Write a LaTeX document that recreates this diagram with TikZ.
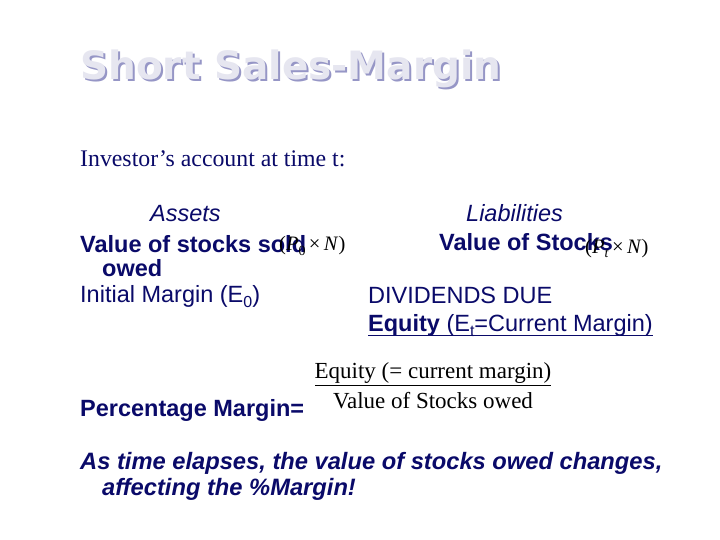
\documentclass[tikz,border=0pt]{standalone}
\usepackage{fontspec}
\usepackage{graphicx}
\setmainfont{Liberation Serif}
\setsansfont{Liberation Sans}
\newfontfamily\titlefont{DejaVu Sans}
\definecolor{navy}{RGB}{10,10,105}
\definecolor{titlefill}{RGB}{230,230,240}
\definecolor{titleshade}{RGB}{150,150,198}
\tikzset{
  txt/.style={anchor=base west, inner sep=0pt, text=navy, font=\sffamily\fontsize{23.5}{28}\selectfont},
  serif/.style={inner sep=0pt, text=black, font=\rmfamily\fontsize{23}{27}\selectfont},
  formula/.style={anchor=base west, inner sep=0pt, text=black, font=\rmfamily\fontsize{20.5}{24}\selectfont},
  ttl/.style={anchor=base west, inner sep=0pt, font=\titlefont\bfseries\fontsize{39}{44}\selectfont}
}
\newcommand{\subsc}[1]{\raisebox{-0.22em}{\scalebox{0.68}{#1}}}
\begin{document}
\begin{tikzpicture}[x=1pt,y=-1pt]
\useasboundingbox[fill=white] (0,0) rectangle (720,540);
% title
\node[ttl, text=titleshade] (titleshadow) at (82,82) {Short Sales-Margin};
\node[ttl, text=titlefill] (title) at (80,80) {Short Sales-Margin};
% intro
\node[serif, anchor=base west, text=navy, font=\rmfamily\fontsize{23.8}{28}\selectfont] (intro) at (80,167) {Investor’s account at time t:};
% assets
\node[txt, font=\sffamily\itshape\fontsize{23.5}{28}\selectfont] (assets) at (150,222) {Assets};
\node[txt, font=\sffamily\bfseries\fontsize{23.5}{28}\selectfont] (vsold) at (80,252) {Value of stocks sold};
\node[txt, font=\sffamily\bfseries\fontsize{23.5}{28}\selectfont] (owed) at (102,276) {owed};
\node[txt] (init) at (80,302) {Initial Margin (E\subsc{0})};
\node[formula] (p0) at (279,251) {(\textit{P}\subsc{0}\,×\,\textit{N})};
% liabilities
\node[txt, font=\sffamily\itshape\fontsize{23.5}{28}\selectfont] (liab) at (466,222) {Liabilities};
\node[txt, font=\sffamily\bfseries\fontsize{23.5}{28}\selectfont] (vstocks) at (439,251) {Value of Stocks};
\node[formula] (pt) at (585,253) {(\textit{P}\subsc{\textit{t}}\,×\,\textit{N})};
\node[txt] (div) at (368,303) {DIVIDENDS DUE};
\node[txt] (eq) at (368,331) {\textbf{Equity} (E\subsc{t}=Current Margin)};
\draw[navy, line width=1.6pt] ([yshift=-4.5pt]eq.base west) -- ([yshift=-4.5pt]eq.base east);
% percentage margin
\node[txt, font=\sffamily\bfseries\fontsize{23.5}{28}\selectfont] (pm) at (80,416) {Percentage Margin=};
\node[serif, anchor=base] (num) at (433,378) {Equity (= current margin)};
\node[serif, anchor=base] (den) at (433,408) {Value of Stocks owed};
\coordinate (fl) at (315,385);
\coordinate (fr) at (551,385);
\draw[black, line width=0.9pt] (fl) -- (fr);
% closing
\node[txt, font=\sffamily\bfseries\itshape\fontsize{23.7}{28}\selectfont] (close1) at (80,469) {As time elapses, the value of stocks owed changes,};
\node[txt, font=\sffamily\bfseries\itshape\fontsize{23.7}{28}\selectfont] (close2) at (102,495) {affecting the \%Margin!};
\end{tikzpicture}
\end{document}
